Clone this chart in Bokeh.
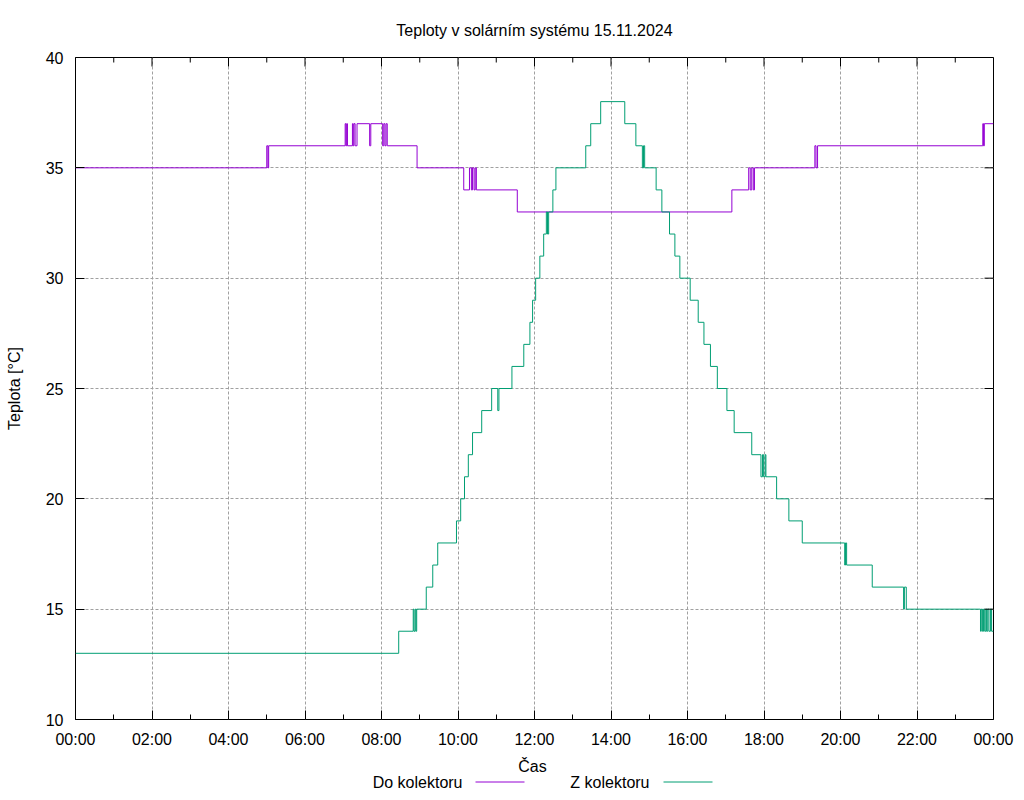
from bokeh.plotting import figure
from bokeh.models import Range1d, FixedTicker
from bokeh.layouts import column
from bokeh.core.properties import value
from bokeh.embed import file_html
from bokeh.resources import INLINE

TITLE = "Teploty v solárním systému 15.11.2024"
X_LABEL = "Čas"
Y_LABEL = "Teplota [°C]"
SERIES_NAMES = ["Do kolektoru", "Z kolektoru"]

X_TICKS = [0, 2, 4, 6, 8, 10, 12, 14, 16, 18, 20, 22, 24]
X_TICK_LABELS = ["00:00", "02:00", "04:00", "06:00", "08:00", "10:00", "12:00",
                 "14:00", "16:00", "18:00", "20:00", "22:00", "00:00"]
X_MINOR = [1, 3, 5, 7, 9, 11, 13, 15, 17, 19, 21, 23]
Y_TICKS = [10, 15, 20, 25, 30, 35, 40]

# Do kolektoru (hours, °C)
DO_T = [0, 5.00, 5.03, 5.05, 7.05, 7.07, 7.09, 7.11, 7.24, 7.26, 7.28, 7.31, 7.36, 7.69, 7.72,
        8.03, 8.06, 8.09, 8.12, 8.15, 8.93, 10.15, 10.30, 10.35, 10.38, 10.42, 10.45, 10.48,
        11.55, 17.16, 17.60, 17.64, 17.68, 17.72, 17.75, 19.33, 19.36, 19.40, 23.72, 23.74,
        23.76, 24.0]
DO_V = [35, 36, 35, 36, 37, 36, 37, 36, 37, 36, 37, 36, 37, 36, 37,
        36, 37, 36, 37, 36, 35, 34, 35, 34, 35, 34, 35, 34,
        33, 34, 35, 34, 35, 34, 35, 36, 35, 36, 37, 36,
        37, 37]

# Z kolektoru (hours, °C)
Z_T = [0, 8.45, 8.83, 8.85, 8.88, 8.90, 8.92, 9.17, 9.34, 9.47, 9.96, 10.07, 10.17, 10.27,
       10.38, 10.62, 10.88, 11.04, 11.07, 11.41, 11.72, 11.88, 11.95, 12.03, 12.14, 12.24,
       12.31, 12.34, 12.37, 12.48, 12.56, 13.34, 13.47, 13.73, 14.36, 14.65, 14.82, 14.85,
       14.88, 15.18, 15.33, 15.53, 15.67, 15.80, 16.07, 16.28, 16.43, 16.60, 16.78, 17.03,
       17.22, 17.68, 17.92, 17.96, 17.99, 18.03, 18.05, 18.33, 18.65, 19.00, 20.11, 20.13,
       20.16, 20.83, 21.65, 21.67, 21.72, 23.66, 23.68, 23.71, 23.74, 23.77, 23.80, 23.82,
       23.85, 23.88, 23.92, 23.95, 24.0]
Z_V = [13, 14, 15, 14, 15, 14, 15, 16, 17, 18, 19, 20, 21, 22,
       23, 24, 25, 24, 25, 26, 27, 28, 29, 30, 31, 32,
       33, 32, 33, 34, 35, 36, 37, 38, 37, 36, 35, 36,
       35, 34, 33, 32, 31, 30, 29, 28, 27, 26, 25, 24,
       23, 22, 21, 22, 21, 22, 21, 20, 19, 18, 17, 18,
       17, 16, 15, 16, 15, 14, 15, 14, 15, 14, 15, 14,
       15, 14, 15, 14, 14]

COLORS = ["#9400d3", "#009e73"]
FONT = "Liberation Sans"
FS = "16px"

MAIN_H = 752
FRAME_L, FRAME_R, FRAME_T, FRAME_B = 75, 993, 57, 719
X_MIN, X_MAX = X_TICKS[0], X_TICKS[-1]
Y_MIN, Y_MAX = Y_TICKS[0], Y_TICKS[-1]
MAJ_TICK, MIN_TICK = 9, 5   # tick lengths in pixels

p = figure(width=1024, height=MAIN_H, output_backend="svg", toolbar_location=None,
           x_range=Range1d(X_MIN, X_MAX), y_range=Range1d(Y_MIN, Y_MAX),
           min_border_left=FRAME_L, min_border_right=1024 - FRAME_R, min_border_top=FRAME_T,
           min_border_bottom=MAIN_H - FRAME_B,
           y_axis_label=Y_LABEL)
p.background_fill_color = "white"
p.border_fill_color = "white"
p.outline_line_color = "black"
p.outline_line_width = 1

p.title.text = TITLE
p.title.align = "center"
p.title.text_font = FONT
p.title.text_font_size = FS
p.title.text_font_style = "normal"
p.title.text_color = "black"
p.title.standoff = 38

xt = FixedTicker(ticks=X_TICKS, minor_ticks=X_MINOR)
yt = FixedTicker(ticks=Y_TICKS, minor_ticks=[])
overrides = {t: l for t, l in zip(X_TICKS, X_TICK_LABELS)}

def style_axis(ax):
    ax.axis_line_color = None
    ax.major_tick_in = MAJ_TICK
    ax.major_tick_out = 0
    ax.minor_tick_in = MIN_TICK
    ax.minor_tick_out = 0
    ax.major_tick_line_color = "black"
    ax.minor_tick_line_color = "black"
    ax.major_label_text_font = FONT
    ax.major_label_text_font_size = FS
    ax.axis_label_text_font = FONT
    ax.axis_label_text_font_size = FS
    ax.axis_label_text_font_style = "normal"
    ax.axis_label_text_color = "black"
    ax.major_label_text_color = "black"

xa = p.xaxis[0]
xa.ticker = xt
xa.major_label_overrides = overrides
style_axis(xa)
xa.major_label_standoff = 11

ya = p.yaxis[0]
ya.ticker = yt
style_axis(ya)
ya.major_label_standoff = 12
ya.axis_label_standoff = 20

p.xgrid.ticker = xt
p.ygrid.ticker = yt
for g in (p.xgrid[0], p.ygrid[0]):
    g.grid_line_color = "#a0a0a0"
    g.grid_line_dash = "3 2"
    g.grid_line_width = 1

p.step(DO_T, DO_V, mode="after", line_color=COLORS[0], line_width=1)
p.step(Z_T, Z_V, mode="after", line_color=COLORS[1], line_width=1)

# mirrored (gnuplot-style) ticks on the top and right borders
px_per_x = (FRAME_R - FRAME_L) / (X_MAX - X_MIN)
px_per_y = (FRAME_B - FRAME_T) / (Y_MAX - Y_MIN)
p.segment(x0=X_TICKS, y0=[Y_MAX] * len(X_TICKS), x1=X_TICKS,
          y1=[Y_MAX - MAJ_TICK / px_per_y] * len(X_TICKS), line_color="black", line_width=1)
p.segment(x0=X_MINOR, y0=[Y_MAX] * len(X_MINOR), x1=X_MINOR,
          y1=[Y_MAX - MIN_TICK / px_per_y] * len(X_MINOR), line_color="black", line_width=1)
p.segment(x0=[X_MAX] * len(Y_TICKS), y0=Y_TICKS, x1=[X_MAX - MAJ_TICK / px_per_x] * len(Y_TICKS),
          y1=Y_TICKS, line_color="black", line_width=1)

# strip below the plot: x-axis title and gnuplot-style key (text, then line
# sample); its frame lines up with the main frame and its ranges equal page pixels
key = figure(width=1024, height=800 - MAIN_H, output_backend="svg", toolbar_location=None,
             x_range=Range1d(FRAME_L, FRAME_R), y_range=Range1d(800, MAIN_H),
             min_border_left=FRAME_L, min_border_right=1024 - FRAME_R,
             min_border_top=0, min_border_bottom=0,
             x_axis_location=None, y_axis_location=None)
key.grid.visible = False
key.outline_line_color = None
key.background_fill_color = "white"
key.border_fill_color = "white"

key.text(x=[532], y=[766], text=[X_LABEL], text_align="center", text_baseline="middle",
         text_font=value(FONT), text_font_size=value(FS), text_color="black")

KEY_POS = [(462, 475, 524), (649, 663, 712)]
KEY_Y = 781.5
for (tx, l0, l1), name, col in zip(KEY_POS, SERIES_NAMES, COLORS):
    key.text(x=[tx], y=[KEY_Y], text=[name], text_align="right", text_baseline="middle",
             text_font=value(FONT), text_font_size=value(FS), text_color="black")
    key.line(x=[l0, l1], y=[KEY_Y, KEY_Y], line_color=col, line_width=1)

layout = column(p, key, spacing=0)
open("out.html", "w").write(file_html(layout, INLINE))
